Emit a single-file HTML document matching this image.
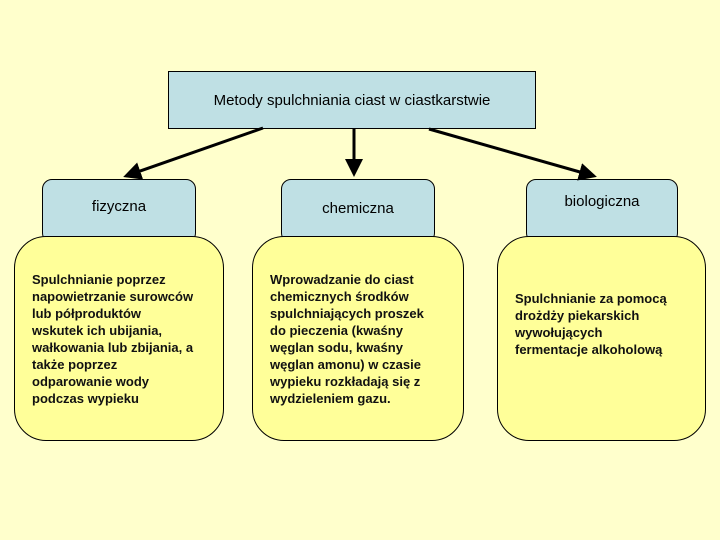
<!DOCTYPE html>
<html><head><meta charset="utf-8"><style>
body{margin:0;width:720px;height:540px;background:#ffffcc;position:relative;overflow:hidden;font-family:"Liberation Sans",Arial,sans-serif}
.b{position:absolute;box-sizing:border-box;border:1px solid #000}
.t{background:#bfe0e4;display:flex;align-items:center;justify-content:center;font-size:15px}
.y{background:#ffff99;border-radius:32px;font-size:13px;font-weight:bold;line-height:17px;padding-left:17px;display:flex;align-items:center;color:#111}
.s{background:#bfe0e4;border-radius:10px;display:flex;align-items:center;justify-content:center;font-size:15px}
</style></head><body>
<div class="b t" style="left:168px;top:71px;width:368px;height:58px">Metody spulchniania ciast w ciastkarstwie</div>
<div class="b s" style="left:42px;top:179px;width:154px;height:64px;padding-bottom:10px">fizyczna</div>
<div class="b s" style="left:281px;top:179px;width:154px;height:64px;padding-bottom:6px">chemiczna</div>
<div class="b s" style="left:526px;top:179px;width:152px;height:64px;padding-bottom:20px">biologiczna</div>
<div class="b y" style="left:14px;top:236px;width:210px;height:205px"><div>Spulchnianie poprzez<br>napowietrzanie surowców<br>lub półproduktów<br>wskutek ich ubijania,<br>wałkowania lub zbijania, a<br>także poprzez<br>odparowanie wody<br>podczas wypieku</div></div>
<div class="b y" style="left:252px;top:236px;width:212px;height:205px"><div>Wprowadzanie do ciast<br>chemicznych środków<br>spulchniających proszek<br>do pieczenia (kwaśny<br>węglan sodu, kwaśny<br>węglan amonu) w czasie<br>wypieku rozkładają się z<br>wydzieleniem gazu.</div></div>
<div class="b y" style="left:497px;top:236px;width:209px;height:205px;padding-bottom:30px"><div>Spulchnianie za pomocą<br>drożdży piekarskich<br>wywołujących<br>fermentacje alkoholową</div></div>
<svg width="720" height="540" style="position:absolute;left:0;top:0">
<defs><marker id="a" markerWidth="6" markerHeight="6" refX="5" refY="3" orient="auto" markerUnits="strokeWidth"><path d="M0,0L6,3L0,6z" fill="#000"/></marker></defs>
<g stroke="#000" stroke-width="3" marker-end="url(#a)">
<line x1="263" y1="128" x2="126" y2="176"/>
<line x1="354" y1="129" x2="354" y2="174"/>
<line x1="429" y1="129" x2="594" y2="176"/>
</g></svg>
</body></html>
